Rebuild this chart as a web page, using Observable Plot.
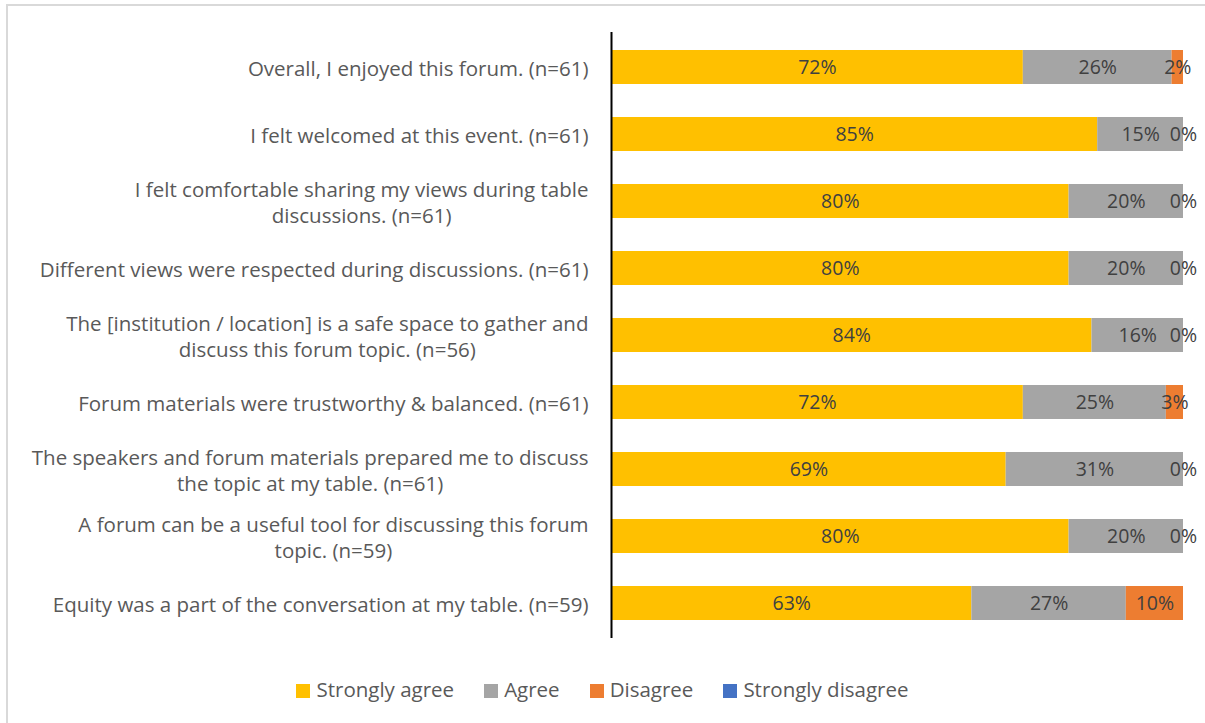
<!DOCTYPE html>
<html><head><meta charset="utf-8">
<script src="https://cdn.jsdelivr.net/npm/d3@7"></script>
<script src="https://cdn.jsdelivr.net/npm/@observablehq/plot@0.6"></script>
<style>
body{margin:0;background:#fff;font-family:"Open Sans",Arial,sans-serif;}
#wrap{position:relative;width:1205px;height:723px;overflow:hidden;}
#border{position:absolute;left:6px;top:4px;width:1300px;height:800px;border-left:2px solid #d9d9d9;border-top:2px solid #d9d9d9;}
#chart{position:absolute;left:0;top:0;}
#legend{position:absolute;left:0;width:1205px;top:675px;text-align:center;font-size:20.5px;color:#595959;}
#legend span.item{margin:0 15px 0 15px;white-space:nowrap;}
#legend span.sw{display:inline-block;width:14px;height:14px;margin-right:6px;vertical-align:-1px;}
</style></head>
<body><div id="wrap"><div id="border"></div><div id="chart"></div><div id="legend"></div></div>
<script>
const questions = [
  "Overall, I enjoyed this forum. (n=61)",
  "I felt welcomed at this event. (n=61)",
  "I felt comfortable sharing my views during table\ndiscussions. (n=61)",
  "Different views were respected during discussions. (n=61)",
  "The [institution / location] is a safe space to gather and\ndiscuss this forum topic. (n=56)",
  "Forum materials were trustworthy & balanced. (n=61)",
  "The speakers and forum materials prepared me to discuss\nthe topic at my table. (n=61)",
  "A forum can be a useful tool for discussing this forum\ntopic. (n=59)",
  "Equity was a part of the conversation at my table. (n=59)"
];
const seriesNames = ["Strongly agree", "Agree", "Disagree", "Strongly disagree"];
const seriesColors = ["#FFC000", "#A5A5A5", "#ED7D31", "#4472C4"];
const stronglyAgree = [72, 85, 80, 80, 84, 72, 69, 80, 63];
const agree = [26, 15, 20, 20, 16, 25, 31, 20, 27];
const disagree = [2, 0, 0, 0, 0, 3, 0, 0, 10];
const stronglyDisagree = [0, 0, 0, 0, 0, 0, 0, 0, 0];

const seriesValues = [stronglyAgree, agree, disagree, stronglyDisagree];
const data = [];
questions.forEach((q, i) => {
  seriesNames.forEach((s, j) => data.push({question: q, series: s, value: seriesValues[j][i]}));
});
const labeled = data.filter(d => d.series !== "Strongly disagree");

const plot = Plot.plot({
  width: 1205,
  height: 640,
  marginLeft: 611,
  marginRight: 22,
  marginTop: 32,
  marginBottom: 2,
  style: {fontFamily: '"Open Sans", Arial, sans-serif', background: "transparent"},
  x: {domain: [0, 100], axis: null},
  y: {domain: questions, axis: null, paddingInner: 0.49, paddingOuter: 0.245},
  color: {domain: seriesNames, range: seriesColors},
  marks: [
    Plot.barX(data, Plot.stackX({x: "value", y: "question", fill: "series", order: seriesNames})),
    Plot.textX(labeled, Plot.stackX({x: "value", y: "question", z: "series", order: seriesNames,
      text: d => d.value + "%", fill: "#404040", fontSize: 19.5})),
    Plot.text(questions, {x: 0, y: d => d, text: d => d, textAnchor: "end", dx: -23,
      fill: "#595959", fontSize: 20.5, lineHeight: 1.3, className: "qlabel"}),
    Plot.ruleX([0], {stroke: "#000", strokeWidth: 2})
  ]
});
document.getElementById("chart").appendChild(plot);

// center wrapped lines relative to each other (right-aligned block)
plot.querySelectorAll("g.qlabel text").forEach(t => {
  const spans = t.querySelectorAll("tspan");
  if (spans.length < 2) return;
  const ws = Array.from(spans).map(s => s.getComputedTextLength());
  const maxW = Math.max(...ws);
  spans.forEach((s, i) => s.setAttribute("dx", -(maxW - ws[i]) / 2));
});

const legend = document.getElementById("legend");
seriesNames.forEach((s, i) => {
  const item = document.createElement("span");
  item.className = "item";
  item.innerHTML = `<span class="sw" style="background:${seriesColors[i]}"></span>${s}`;
  legend.appendChild(item);
});
</script></body></html>
